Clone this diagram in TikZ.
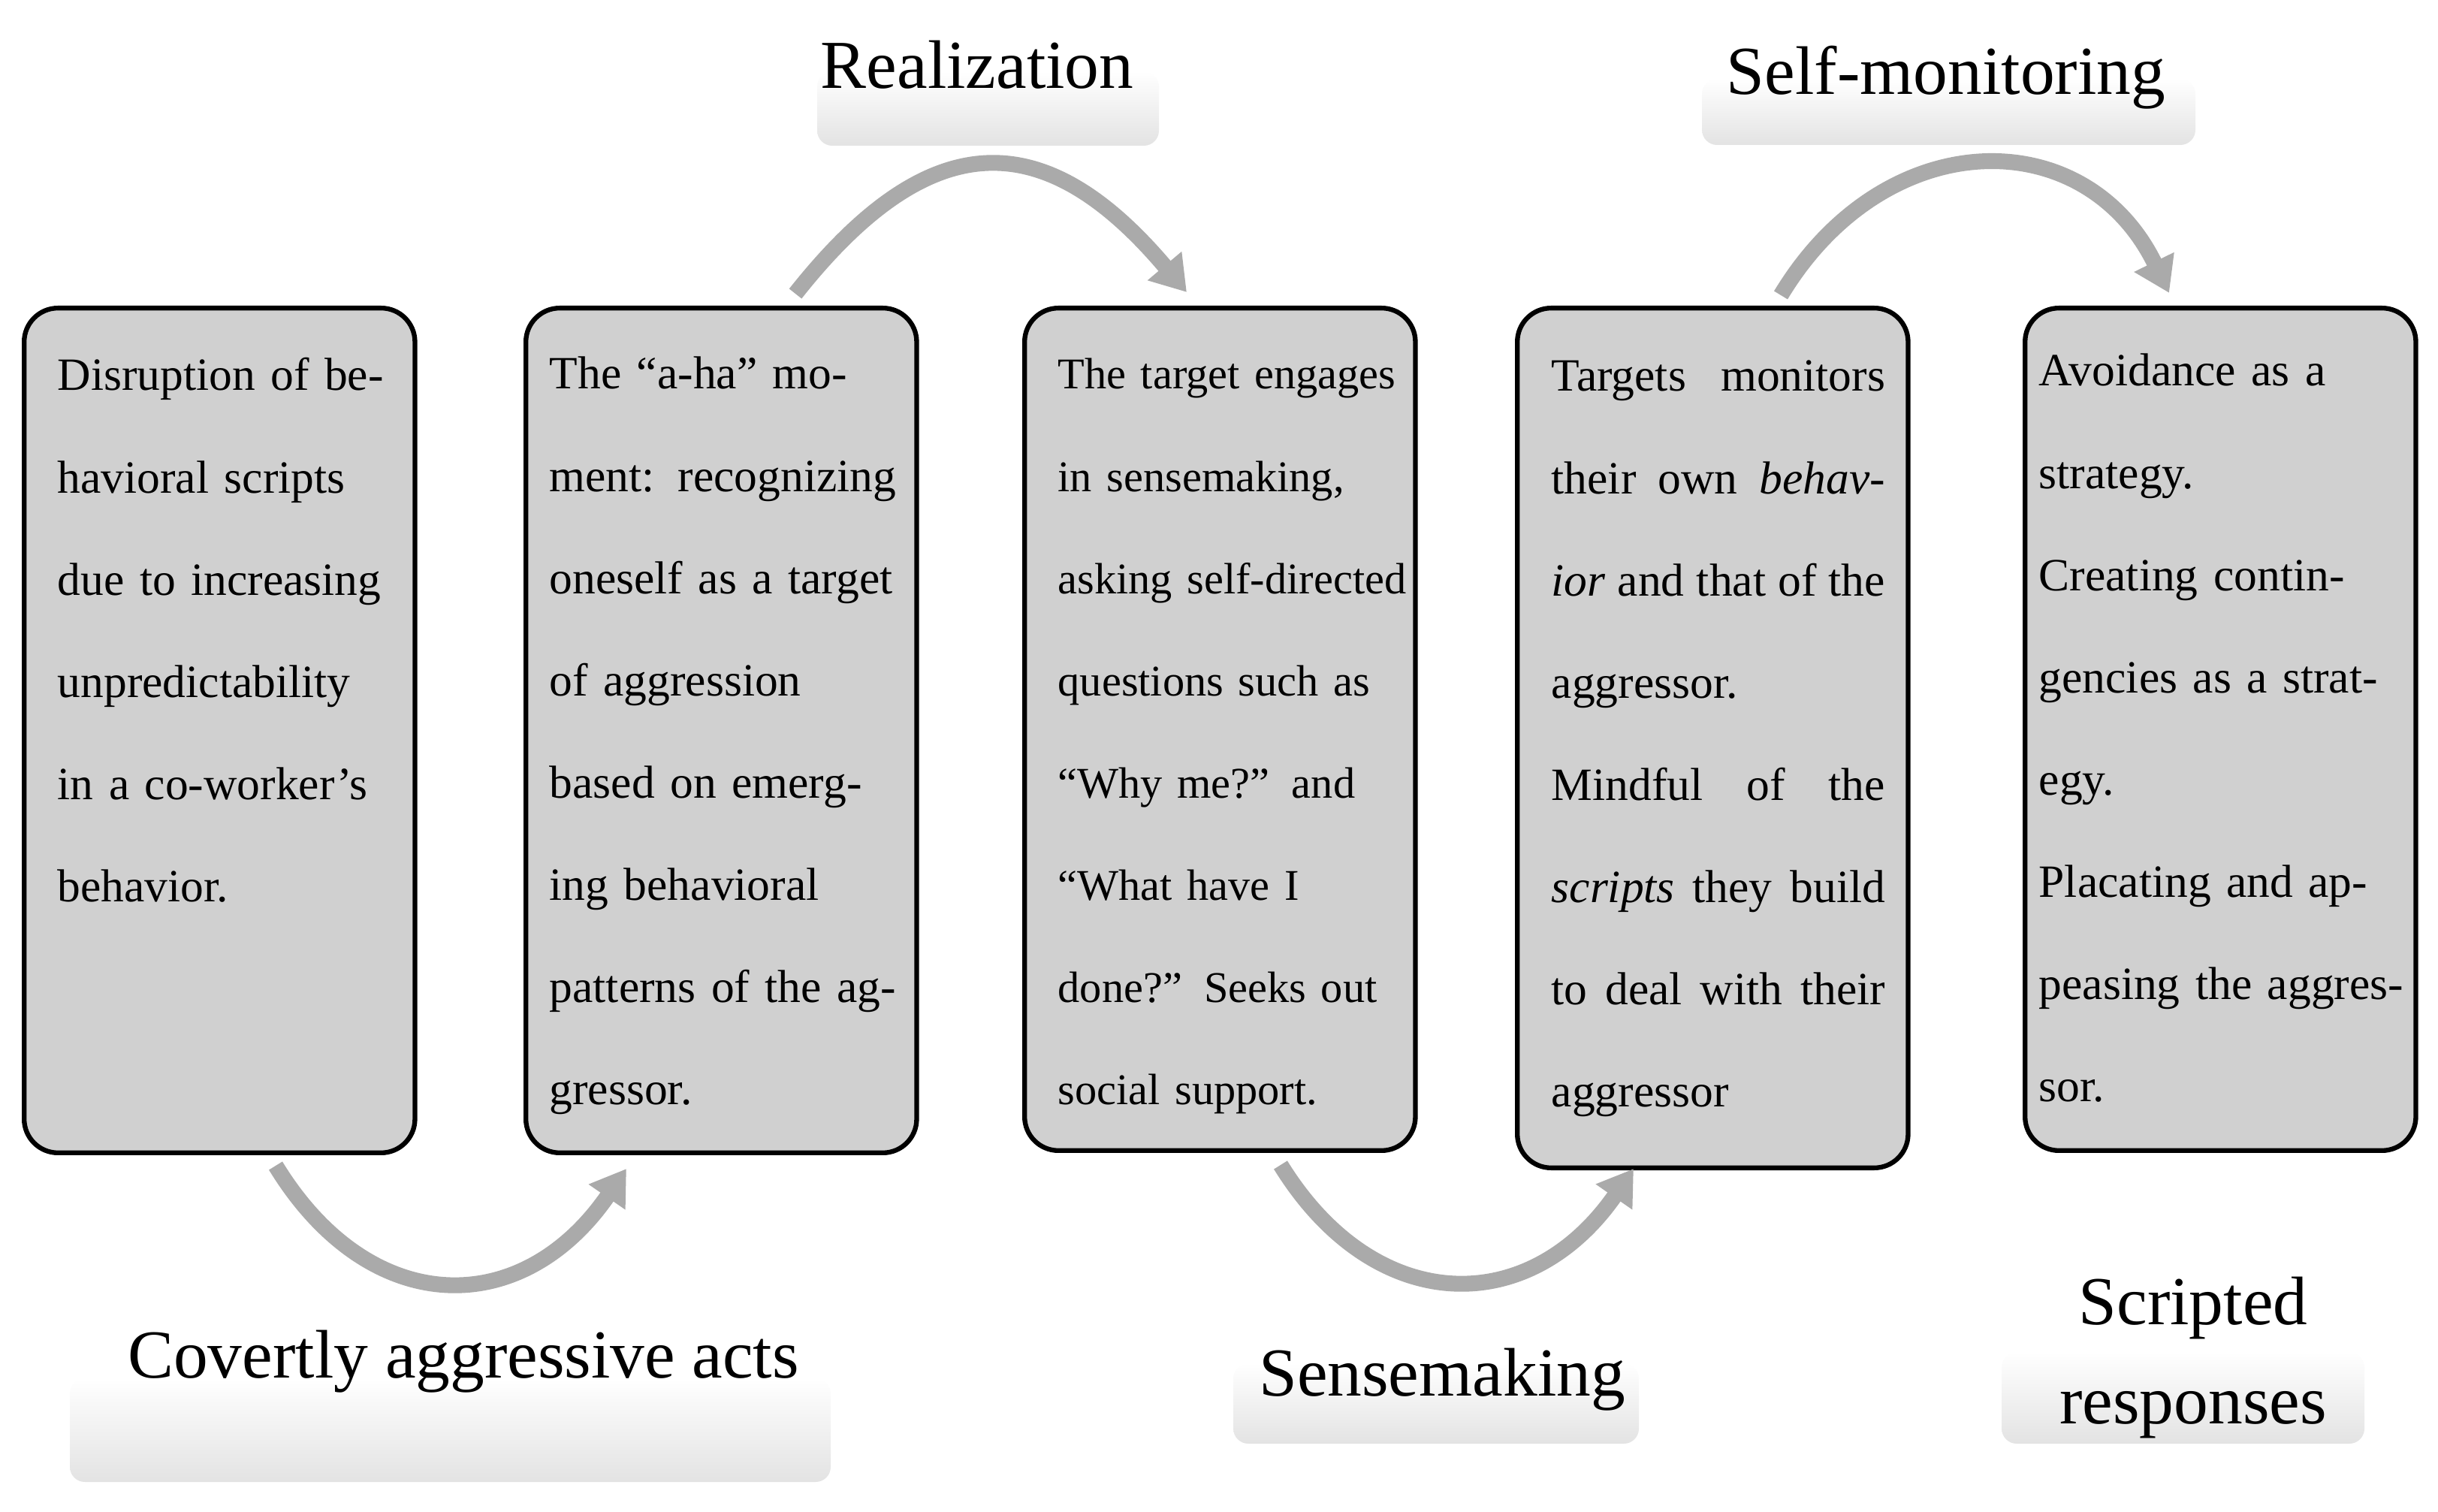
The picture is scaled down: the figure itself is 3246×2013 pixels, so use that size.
\documentclass[tikz,border=0pt]{standalone}
\usepackage{fontspec}
\setmainfont{Liberation Serif}
\usetikzlibrary{arrows.meta}
\definecolor{boxgray}{RGB}{208,208,208}
\definecolor{arrowgray}{RGB}{170,170,170}
\tikzset{
  stepbox/.style={draw=black, line width=1.8pt, fill=boxgray, rounded corners=0.45cm,
    minimum width=5.2cm, anchor=north west, inner sep=0pt},
  steptext/.style={anchor=base west, text width=4.9cm, align=left, inner sep=0pt,
    font=\fontsize{17.5}{38.7}\selectfont},
  lblbox/.style={top color=white, bottom color=black!11, rounded corners=0.2cm},
  lbltext/.style={anchor=base, inner sep=0pt, font=\fontsize{26}{37.7}\selectfont},
  flowarrow/.style={draw=arrowgray, line width=6pt, -{Triangle[length=13pt,width=16pt]}}
}
\begin{document}
\begin{tikzpicture}[x=0.01cm, y=-0.01cm]
  \useasboundingbox (0,0) rectangle (3246,2013);
  \path[lblbox] (1088,95) rectangle (1543,194);
  \path[lblbox] (2266,105) rectangle (2923,193);
  \path[lblbox] (93,1835) rectangle (1106,1973);
  \path[lblbox] (1642,1815) rectangle (2182,1922);
  \path[lblbox] (2665,1800) rectangle (3148,1922);
  \node[lbltext] (lreal) at (1301,118) {Realization};
  \node[lbltext] (lself) at (2591,126) {Self-monitoring};
  \node[lbltext] (lcov) at (617,1834) {Covertly aggressive acts};
  \node[lbltext] (lsense) at (1920,1858) {Sensemaking};
  \node[lbltext, text width=4.6cm, align=center] (lresp) at (2920,1763) {Scripted\\responses};
  \node[stepbox, minimum height=11.24cm] (b1) at (29,407) {};
  \node[stepbox, minimum height=11.24cm] (b2) at (697,407) {};
  \node[stepbox, minimum height=11.21cm] (b3) at (1361,407) {};
  \node[stepbox, minimum height=11.44cm] (b4) at (2017,407) {};
  \node[stepbox, minimum height=11.21cm] (b5) at (2693,407) {};
  \node[steptext] (t1) at (76,520) {Disruption of be-\\havioral scripts\\due to increasing\\unpredictability\\in a co-worker’s\\behavior.};
  \node[steptext] (t2) at (731,518) {The “a-ha” mo-\\ment: recognizing\\oneself as a target\\of aggression\\based on emerg-\\ing behavioral\\patterns of the ag-\\gressor.};
  \node[steptext, font=\fontsize{16.6}{38.7}\selectfont] (t3) at (1408,518) {The target engages\\in sensemaking,\\asking self-directed\\questions such as\\“Why me?” and\\“What have I\\done?” Seeks out\\social support.};
  \node[steptext, text width=4.44cm] (t4) at (2065,521) {Targets\hfill monitors\\their\hfill own\hfill \textit{behav-}\\\textit{ior}\hfill and\hfill that\hfill of\hfill the\\aggressor.\\Mindful\hfill of\hfill the\\\textit{scripts}\hfill they\hfill build\\to\hfill deal\hfill with\hfill their\\aggressor};
  \node[steptext] (t5) at (2714,514) {Avoidance as a\\strategy.\\Creating contin-\\gencies as a strat-\\egy.\\Placating and ap-\\peasing the aggres-\\sor.};
  \coordinate (a1s) at (367,1552);
  \coordinate (a1e) at (834,1556);
  \coordinate (a2s) at (1059,391);
  \coordinate (a2e) at (1580,389);
  \coordinate (a3s) at (1705,1551);
  \coordinate (a3e) at (2175,1556);
  \coordinate (a4s) at (2371,393);
  \coordinate (a4e) at (2888,390);
  \begin{scope}[flowarrow]
    \draw (a1s) .. controls (491,1755) and (694,1759) .. (a1e);
    \draw (a2s) .. controls (1237,166) and (1390,164) .. (a2e);
    \draw (a3s) .. controls (1829,1752) and (2035,1757) .. (a3e);
    \draw (a4s) .. controls (2509,164) and (2776,161) .. (a4e);
  \end{scope}
\end{tikzpicture}
\end{document}
